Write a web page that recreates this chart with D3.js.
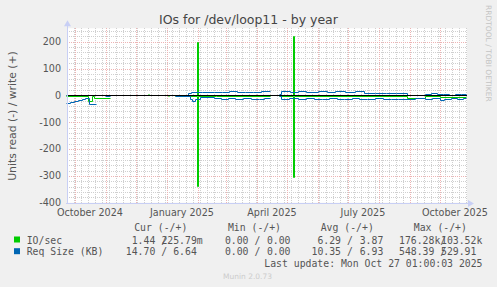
<!DOCTYPE html>
<html>
<head>
<meta charset="utf-8">
<script src="https://cdn.jsdelivr.net/npm/d3@7"></script>
<style>
  body { margin: 0; background: #f0f0f0; }
  svg { display: block; }
</style>
</head>
<body>
<svg id="chart" width="497" height="287"></svg>
<script>
const title = "IOs for /dev/loop11 - by year";
const yLabel = "Units read (-) / write (+)";
const yTicks = [200, 100, 0, -100, -200, -300, -400];
const xLabelMonths = ["2024-10-01", "2025-01-01", "2025-04-01", "2025-07-01", "2025-10-01"];
const startTime = "2024-09-22T01:00:00Z";
const endTime = "2025-10-27T01:00:00Z";

// daily averages as step breakpoints [date, value]; null = no data from that date
// read values are stored positive and drawn below zero
const ioRead = [
  ["2024-09-22", 1], ["2024-10-14", 20], ["2024-10-18", 1], ["2024-10-20", 11], ["2024-11-05", null],
  ["2025-01-02", 1], ["2025-01-03", null],
  ["2025-01-09", 0.5], ["2025-01-31", 339], ["2025-02-01", 4], ["2025-02-19", 1], ["2025-04-14", null],
  ["2025-04-23", 1], ["2025-05-07", 304], ["2025-05-08", 1], ["2025-08-29", 9], ["2025-09-16", 1],
  ["2025-10-01", 5], ["2025-10-27", 5]
];
const ioWrite = [
  ["2024-09-22", 0.5], ["2024-11-05", null],
  ["2024-12-13", 5], ["2024-12-14", null],
  ["2025-01-09", 1], ["2025-01-31", 200], ["2025-02-01", 1.5], ["2025-04-14", null],
  ["2025-04-23", 1.5], ["2025-05-07", 222], ["2025-05-08", 1.5], ["2025-10-27", 1.5]
];
const reqRead = [
  ["2024-09-22", 28], ["2024-09-26", 24], ["2024-09-30", 20], ["2024-10-04", 17], ["2024-10-08", 15],
  ["2024-10-11", 11], ["2024-10-15", 32], ["2024-10-22", null], ["2024-10-31", 1], ["2024-11-05", null],
  ["2025-01-09", 2], ["2025-01-16", 3], ["2025-01-24", 14], ["2025-01-26", 22], ["2025-01-29", 14],
  ["2025-02-03", 6], ["2025-02-17", 11], ["2025-02-24", 12], ["2025-03-03", 10], ["2025-03-10", 13],
  ["2025-03-18", 11], ["2025-03-26", 12], ["2025-04-03", 14], ["2025-04-08", 11], ["2025-04-14", null],
  ["2025-04-23", 3], ["2025-04-25", 12], ["2025-05-03", 10], ["2025-05-12", 13], ["2025-05-20", 11],
  ["2025-05-28", 12], ["2025-06-05", 14], ["2025-06-12", 11], ["2025-06-20", 12], ["2025-06-27", 13],
  ["2025-07-05", 11], ["2025-07-12", 12], ["2025-07-20", 13], ["2025-07-28", 11], ["2025-08-05", 12],
  ["2025-08-13", 14], ["2025-08-20", 12], ["2025-09-06", 11], ["2025-09-16", 12], ["2025-09-23", 10],
  ["2025-10-01", 19], ["2025-10-05", 12], ["2025-10-12", 10], ["2025-10-18", 13], ["2025-10-24", 11],
  ["2025-10-27", 11]
];
const reqWrite = [
  ["2024-09-22", 1], ["2024-10-22", null], ["2024-10-31", 1], ["2024-11-05", null],
  ["2025-01-09", 1], ["2025-01-22", 8], ["2025-01-25", 13], ["2025-02-05", 12], ["2025-02-17", 14],
  ["2025-02-25", 13], ["2025-03-04", 15], ["2025-03-12", 12], ["2025-03-20", 14], ["2025-03-28", 13],
  ["2025-04-05", 15], ["2025-04-14", null], ["2025-04-23", 4], ["2025-04-25", 15], ["2025-05-04", 14],
  ["2025-05-12", 16], ["2025-05-20", 14], ["2025-06-01", 15], ["2025-06-10", 14], ["2025-06-18", 15],
  ["2025-06-28", 14], ["2025-07-08", 15], ["2025-07-17", 9], ["2025-07-28", 10], ["2025-08-08", 9],
  ["2025-08-18", 10], ["2025-08-29", 0.5], ["2025-09-16", 5], ["2025-09-22", 7], ["2025-09-28", 4],
  ["2025-10-04", 6], ["2025-10-10", 3], ["2025-10-16", 6], ["2025-10-22", 5], ["2025-10-27", 5]
];

const seriesNames = ["IO/sec", "Req Size (KB)"];
const seriesColors = ["#00cc00", "#0066b3"];
const legendHeaders = ["Cur (-/+)", "Min (-/+)", "Avg (-/+)", "Max (-/+)"];
// [read, read suffix, write, write suffix] per column
const legendIo = [["1.44", "\u00a0/", "225.79", "m"], ["0.00", "\u00a0/", "0.00", ""], ["6.29", "\u00a0/", "3.87", ""], ["176.28", "k/", "103.52", "k"]];
const legendReq = [["14.70", "\u00a0/", "6.64", ""], ["0.00", "\u00a0/", "0.00", ""], ["10.35", "\u00a0/", "6.93", ""], ["548.39", "\u00a0/", "529.91", ""]];
const lastUpdate = "Last update: Mon Oct 27 01:00:03 2025";

const svg = d3.select("#chart");
const plot = { left: 67, right: 467, top: 28.3, bottom: 202.7 };

const x = d3.scaleUtc()
  .domain([new Date(startTime), new Date(endTime)])
  .range([66, 466]);

const y = d3.scaleLinear()
  .domain([-400, 250])
  .range([plot.bottom, plot.top]);

const parse = d3.utcParse("%Y-%m-%d");
const px = v => Math.round(v) + 0.5;

svg.append("rect")
  .attr("x", plot.left).attr("y", plot.top)
  .attr("width", plot.right - plot.left).attr("height", plot.bottom - plot.top)
  .attr("fill", "#ffffff");

// minor grid
const grid = svg.append("g").attr("shape-rendering", "crispEdges");
d3.range(-400, 251, 20).filter(v => v % 100 !== 0).forEach(v => {
  grid.append("line")
    .attr("x1", plot.left).attr("x2", plot.right)
    .attr("y1", px(y(v))).attr("y2", px(y(v)))
    .attr("stroke", "#cfcfcf").attr("stroke-dasharray", "1,1");
});
d3.utcMonday.range(x.domain()[0], x.domain()[1]).forEach(d => {
  grid.append("line")
    .attr("x1", px(x(d))).attr("x2", px(x(d)))
    .attr("y1", plot.top).attr("y2", plot.bottom)
    .attr("stroke", "#cfcfcf").attr("stroke-dasharray", "1,1");
});

// major grid
yTicks.filter(v => v !== 0).forEach(v => {
  grid.append("line")
    .attr("x1", plot.left).attr("x2", plot.right)
    .attr("y1", px(y(v))).attr("y2", px(y(v)))
    .attr("stroke", "#eeb4b4").attr("stroke-dasharray", "1,1");
});
d3.utcMonth.range(x.domain()[0], x.domain()[1]).forEach(d => {
  grid.append("line")
    .attr("x1", px(x(d))).attr("x2", px(x(d)))
    .attr("y1", plot.top).attr("y2", plot.bottom + 1)
    .attr("stroke", "#eeb4b4").attr("stroke-dasharray", "1,1");
});

// data lines: a null closes the previous step at that date
const withStepEnds = (data, sign) => {
  const out = [];
  data.forEach((d, i) => {
    if (d[1] === null && i > 0 && data[i - 1][1] !== null) {
      out.push([d[0], sign * data[i - 1][1]]);
    }
    out.push([d[0], d[1] === null ? null : sign * d[1]]);
  });
  return out;
};

const line = d3.line()
  .defined(d => d[1] !== null)
  .x(d => px(x(parse(d[0]))))
  .y(d => px(y(d[1])))
  .curve(d3.curveStepAfter);

const lines = [
  [ioRead, -1, seriesColors[0]],
  [ioWrite, 1, seriesColors[0]],
  [reqRead, -1, seriesColors[1]],
  [reqWrite, 1, seriesColors[1]]
];
lines.forEach(([data, sign, color]) => {
  svg.append("path")
    .datum(withStepEnds(data, sign))
    .attr("fill", "none")
    .attr("stroke", color)
    .attr("stroke-width", 1)
    .attr("d", line);
});

// zero line
svg.append("line")
  .attr("x1", plot.left).attr("x2", plot.right)
  .attr("y1", px(y(0))).attr("y2", px(y(0)))
  .attr("stroke", "#000").attr("stroke-width", 1);

// axes with arrows
const axisColor = "#c8cff5";
const axisY = Math.round(plot.bottom) + 0.5;
svg.append("line")
  .attr("x1", plot.left - 1).attr("x2", plot.right + 2)
  .attr("y1", axisY).attr("y2", axisY)
  .attr("stroke", axisColor);
svg.append("line")
  .attr("x1", plot.left + 0.5).attr("x2", plot.left + 0.5)
  .attr("y1", plot.bottom + 1).attr("y2", plot.top - 3)
  .attr("stroke", axisColor);
svg.append("path")
  .attr("d", `M${plot.right + 1},${axisY - 3.5} L${plot.right + 7},${axisY} L${plot.right + 1},${axisY + 3.5} Z`)
  .attr("fill", axisColor);
svg.append("path")
  .attr("d", `M${plot.left - 3},${plot.top - 2} L${plot.left + 0.5},${plot.top - 8} L${plot.left + 4},${plot.top - 2} Z`)
  .attr("fill", axisColor);

// y tick labels
svg.append("g")
  .selectAll("text")
  .data(yTicks)
  .join("text")
  .attr("x", 61)
  .attr("y", d => y(d))
  .attr("dy", "0.35em")
  .attr("text-anchor", "end")
  .attr("font-family", "DejaVu Sans")
  .attr("font-size", 9.6)
  .attr("fill", "#555")
  .text(d => d);

// x labels, centred half a month after the month start
const fmt = d3.utcFormat("%B %Y");
svg.append("g")
  .selectAll("text")
  .data(xLabelMonths.map(parse))
  .join("text")
  .attr("x", d => x(d3.utcDay.offset(d, 15)))
  .attr("y", 216)
  .attr("text-anchor", "middle")
  .attr("font-family", "DejaVu Sans")
  .attr("font-size", 9.6)
  .attr("fill", "#555")
  .text(d => fmt(d));

// title
svg.append("text")
  .attr("x", 248.5).attr("y", 23.5)
  .attr("text-anchor", "middle")
  .attr("font-family", "DejaVu Sans")
  .attr("font-size", 12.5)
  .attr("fill", "#444")
  .text(title);

// y label
svg.append("text")
  .attr("transform", "translate(12,116) rotate(-90)")
  .attr("text-anchor", "middle")
  .attr("dy", "0.35em")
  .attr("font-family", "DejaVu Sans")
  .attr("font-size", 10.8)
  .attr("fill", "#555")
  .text(yLabel);

// rrdtool watermark
svg.append("text")
  .attr("transform", "translate(485.5,5) rotate(90)")
  .attr("font-family", "DejaVu Sans")
  .attr("font-size", 7.5)
  .attr("fill", "#c4c4c4")
  .text("RRDTOOL / TOBI OETIKER");

// legend
const mono = "DejaVu Sans Mono";
const colRead = [155.3, 248.5, 341, 434.4];
const colWrite = [196.8, 290.5, 383.3, 476.4];
const legend = svg.append("g")
  .attr("font-family", mono)
  .attr("font-size", 9.8)
  .attr("fill", "#555");

legendHeaders.forEach((h, i) => {
  legend.append("text")
    .attr("x", colWrite[i] - 9.5).attr("y", 231)
    .attr("text-anchor", "end")
    .text(h);
});

[legendIo, legendReq].forEach((row, r) => {
  const yy = 243.5 + r * 11.7;
  legend.append("rect")
    .attr("x", 14).attr("y", yy - 7)
    .attr("width", 6).attr("height", 6)
    .attr("fill", seriesColors[r]);
  legend.append("text")
    .attr("x", 26.7).attr("y", yy)
    .text(seriesNames[r]);
  row.forEach((cell, i) => {
    legend.append("text").attr("x", colRead[i]).attr("y", yy)
      .attr("text-anchor", "end").text(cell[0]);
    legend.append("text").attr("x", colRead[i]).attr("y", yy)
      .text(cell[1]);
    legend.append("text").attr("x", colWrite[i]).attr("y", yy)
      .attr("text-anchor", "end").text(cell[2]);
    legend.append("text").attr("x", colWrite[i]).attr("y", yy)
      .text(cell[3]);
  });
});

legend.append("text")
  .attr("x", 482.5).attr("y", 267)
  .attr("text-anchor", "end")
  .text(lastUpdate);

svg.append("text")
  .attr("x", 247.5).attr("y", 279)
  .attr("text-anchor", "middle")
  .attr("font-family", "DejaVu Sans")
  .attr("font-size", 7.5)
  .attr("fill", "#cccccc")
  .text("Munin 2.0.73");
</script>
</body>
</html>
